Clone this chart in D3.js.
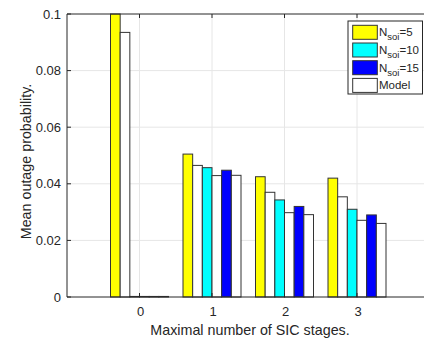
<!DOCTYPE html>
<html lang="en">
<head>
<meta charset="UTF-8">
<title>Mean outage probability</title>
<style>
  body { margin: 0; background: #fff; }
  text { font-family: "Liberation Sans", Arial, sans-serif; fill: #262626; }
</style>
</head>
<body>
<svg id="chart" width="424" height="339"></svg>
<script src="https://d3js.org/d3.v7.min.js"></script>
<script>
// values
var stages = [0, 1, 2, 3];
var nsoi5   = [0.1,    0.0505, 0.0425, 0.042];
var model5  = [0.0935, 0.0465, 0.037,  0.0354];
var nsoi10  = [0.0002, 0.0457, 0.0343, 0.031];
var model10 = [0.0002, 0.0429, 0.0298, 0.0271];
var nsoi15  = [0.0002, 0.0448, 0.032,  0.029];
var model15 = [0.0002, 0.043,  0.0291, 0.026];
var yTicks = [0, 0.02, 0.04, 0.06, 0.08, 0.1];
var yTickLabels = ["0", "0.02", "0.04", "0.06", "0.08", "0.1"];

var series = [
  { vals: nsoi5,   color: "#ffff00" },
  { vals: model5,  color: "#ffffff" },
  { vals: nsoi10,  color: "#00ffff" },
  { vals: model10, color: "#ffffff" },
  { vals: nsoi15,  color: "#0000ff" },
  { vals: model15, color: "#ffffff" }
];
var legendItems = [
  { sub: "soi", rest: "=5",  color: "#ffff00" },
  { sub: "soi", rest: "=10", color: "#00ffff" },
  { sub: "soi", rest: "=15", color: "#0000ff" },
  { label: "Model", color: "#ffffff" }
];

var svg = d3.select("#chart");
// plot box (window.top is reserved, so use other names)
var pLeft = 67, pRight = 429.5, pTop = 14, pBottom = 297;

var x = d3.scaleLinear().domain([-1, 4]).range([pLeft, pRight]);
var y = d3.scaleLinear().domain([0, 0.1]).range([pBottom, pTop]);

var grid = svg.append("g");
grid.selectAll(".gx").data(stages).enter().append("line")
  .attr("x1", d => x(d)).attr("x2", d => x(d))
  .attr("y1", pTop).attr("y2", pBottom)
  .attr("stroke", "#e6e6e6").attr("stroke-width", 1);
grid.selectAll(".gy").data(yTicks.slice(1, -1)).enter().append("line")
  .attr("x1", pLeft).attr("x2", pRight)
  .attr("y1", d => y(d)).attr("y2", d => y(d))
  .attr("stroke", "#e6e6e6").attr("stroke-width", 1);

// grouped bars, group width 0.8
var barW = 0.8 / series.length;
series.forEach(function(s, i) {
  svg.append("g").selectAll("rect")
    .data(s.vals)
    .enter().append("rect")
      .attr("x", (d, j) => x(stages[j] - 0.4 + i * barW))
      .attr("y", d => y(d))
      .attr("width", x(barW) - x(0))
      .attr("height", d => y(0) - y(d))
      .attr("fill", s.color)
      .attr("stroke", "#333")
      .attr("stroke-width", 1);
});

// axes (MATLAB style, ticks inside)
var axisColor = "#262626";
svg.append("line").attr("x1", pLeft).attr("x2", pLeft).attr("y1", pTop).attr("y2", pBottom)
  .attr("stroke", axisColor);
svg.append("line").attr("x1", pLeft).attr("x2", pRight).attr("y1", pBottom).attr("y2", pBottom)
  .attr("stroke", axisColor);
svg.append("line").attr("x1", pLeft).attr("x2", pRight).attr("y1", pTop).attr("y2", pTop)
  .attr("stroke", axisColor);

svg.selectAll(".yt").data(yTicks).enter().append("line")
  .attr("x1", pLeft).attr("x2", pLeft + 4)
  .attr("y1", d => y(d)).attr("y2", d => y(d))
  .attr("stroke", axisColor);
svg.selectAll(".ytl").data(yTicks).enter().append("text")
  .attr("x", pLeft - 6).attr("y", d => y(d) + 4.5)
  .attr("text-anchor", "end").attr("font-size", 13)
  .text((d, i) => yTickLabels[i]);

svg.selectAll(".xtb").data(stages).enter().append("line")
  .attr("x1", d => x(d)).attr("x2", d => x(d))
  .attr("y1", pBottom).attr("y2", pBottom - 4)
  .attr("stroke", axisColor);
svg.selectAll(".xtt").data(stages).enter().append("line")
  .attr("x1", d => x(d)).attr("x2", d => x(d))
  .attr("y1", pTop).attr("y2", pTop + 4)
  .attr("stroke", axisColor);
svg.selectAll(".xtl").data(stages).enter().append("text")
  .attr("x", d => x(d) + 1).attr("y", pBottom + 18.5)
  .attr("text-anchor", "middle").attr("font-size", 13)
  .text(d => d);

svg.append("text")
  .attr("x", 250).attr("y", 334.5)
  .attr("text-anchor", "middle").attr("font-size", 14.3)
  .text("Maximal number of SIC stages.");
svg.append("text")
  .attr("transform", "translate(31,161.5) rotate(-90)")
  .attr("text-anchor", "middle").attr("font-size", 14.3)
  .text("Mean outage probability.");

// legend
var lg = svg.append("g").attr("transform", "translate(348,21)");
lg.append("rect").attr("width", 74.5).attr("height", 73)
  .attr("fill", "#fff").attr("stroke", axisColor);
legendItems.forEach(function(d, i) {
  var row = lg.append("g").attr("transform", "translate(0," + (4.3 + i * 17.7) + ")");
  row.append("rect").attr("x", 4.7).attr("width", 24.6).attr("height", 14)
    .attr("fill", d.color).attr("stroke", "#333");
  var t = row.append("text").attr("x", 31).attr("y", 11).attr("font-size", 11.5);
  if (d.label) {
    t.text(d.label);
  } else {
    t.append("tspan").text("N");
    t.append("tspan").attr("dy", 4).attr("font-size", 9.5).text(d.sub);
    t.append("tspan").attr("dy", -4).text(d.rest);
  }
});
</script>
</body>
</html>
